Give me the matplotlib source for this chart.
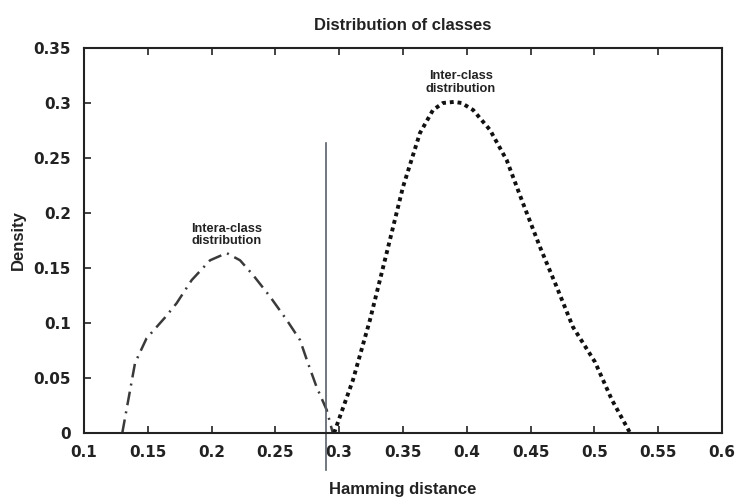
import matplotlib
matplotlib.use("Agg")
import matplotlib.pyplot as plt

plt.rcParams['font.family'] = ['Liberation Sans', 'DejaVu Sans']

# Intra-class distribution (dash-dot curve)
intra_x = [0.130, 0.140, 0.144, 0.149, 0.1635, 0.1726, 0.1844, 0.1988, 0.2118,
           0.2223, 0.2325, 0.2458, 0.2589, 0.2693, 0.2755, 0.2823, 0.2902, 0.295]
intra_y = [0.0, 0.0636, 0.0736, 0.086, 0.105, 0.118, 0.139, 0.157, 0.1636,
           0.157, 0.1436, 0.124, 0.1027, 0.0845, 0.0636, 0.0418, 0.021, 0.0]

# Inter-class distribution (dotted curve)
inter_x = [0.296, 0.3108, 0.3241, 0.3372, 0.350, 0.3633, 0.3735, 0.3813, 0.390,
           0.396, 0.405, 0.4182, 0.4313, 0.444, 0.4574, 0.4705, 0.4832, 0.5005,
           0.5138, 0.528]
inter_y = [0.0, 0.0482, 0.1027, 0.1636, 0.2236, 0.2727, 0.2936, 0.300, 0.301,
           0.300, 0.2936, 0.2755, 0.248, 0.209, 0.169, 0.1327, 0.0964, 0.0645,
           0.030, 0.0]

threshold_x = 0.29
threshold_y = [-0.034, 0.264]

xticks = [0.1, 0.15, 0.2, 0.25, 0.3, 0.35, 0.4, 0.45, 0.5, 0.55, 0.6]
xticklabels = ['0.1', '0.15', '0.2', '0.25', '0.3', '0.35', '0.4', '0.45', '0.5', '0.55', '0.6']
yticks = [0, 0.05, 0.1, 0.15, 0.2, 0.25, 0.3, 0.35]
yticklabels = ['0', '0.05', '0.1', '0.15', '0.2', '0.25', '0.3', '0.35']

fig = plt.figure(figsize=(7.42, 5.0), dpi=100)
ax = fig.add_axes([0.1132, 0.134, 0.8598, 0.770])

ax.plot(intra_x, intra_y, color='#3a3a3a', linewidth=1.8,
        dashes=(5.5, 2.5, 0.8, 2.5))
ax.plot(inter_x, inter_y, color='#111111', linewidth=2.8, linestyle=(0, (1, 1)),
        dash_capstyle='butt')
ax.plot([threshold_x, threshold_x], threshold_y, color='#5a6068', linewidth=1.2,
        clip_on=False)

ax.set_xlim(0.1, 0.6)
ax.set_ylim(0, 0.35)
ax.set_xticks(xticks)
ax.set_xticklabels(xticklabels)
ax.set_yticks(yticks)
ax.set_yticklabels(yticklabels)
ax.tick_params(direction='in', top=True, right=False, length=5, width=1.2,
               labelsize=11, colors='#222222')
ax.tick_params(axis='x', pad=8.5)
ax.tick_params(axis='y', pad=9.5)
for lab in ax.get_xticklabels() + ax.get_yticklabels():
    lab.set_fontweight('bold')
    lab.set_family(['DejaVu Sans'])
for sp in ax.spines.values():
    sp.set_linewidth(1.5)
    sp.set_color('#222222')

ax.set_title('Distribution of classes', fontsize=12, fontweight='bold', pad=13,
             color='#222222')
ax.set_xlabel('Hamming distance', fontsize=12, fontweight='bold', labelpad=16,
              color='#222222')
ax.set_ylabel('Density', fontsize=12, fontweight='bold', labelpad=5,
              color='#222222')

ax.text(0.212, 0.180, 'Intera-class\ndistribution', fontsize=9.2, fontweight='bold',
        ha='center', va='center', linespacing=1.1, color='#222222')
ax.text(0.3955, 0.319, 'Inter-class\ndistribution', fontsize=9.2, fontweight='bold',
        ha='center', va='center', linespacing=1.1, color='#222222')

fig.savefig('out.png', dpi=100, facecolor='white')
